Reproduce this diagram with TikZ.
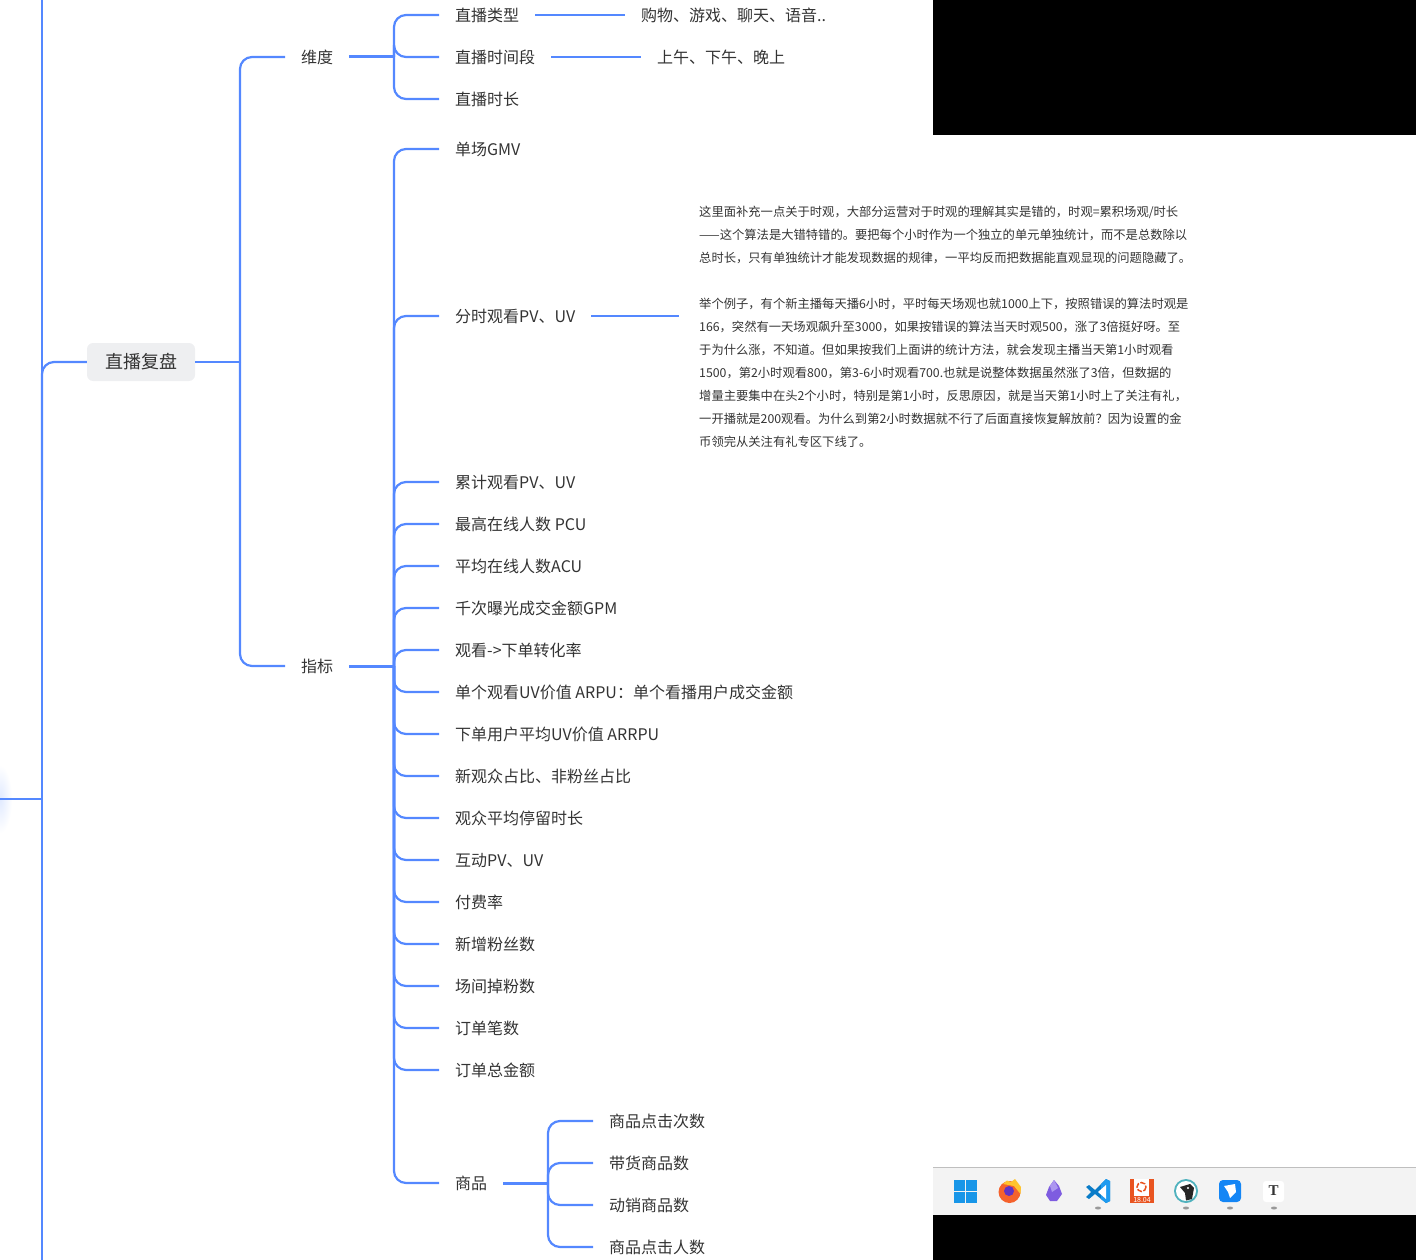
\documentclass[tikz,border=0pt]{standalone}
\usepackage{fontspec}
\setmainfont{Noto Sans CJK SC}
\newfontfamily\iconserif{Liberation Serif}
\usetikzlibrary{calc,positioning,shapes}
\definecolor{linkblue}{RGB}{84,136,255}
\definecolor{inkgray}{RGB}{51,51,51}
\definecolor{rootgray}{RGB}{238,239,241}
\definecolor{barigray}{RGB}{243,243,243}
\definecolor{winblue}{RGB}{24,150,232}
\definecolor{foxorange}{RGB}{245,98,44}
\definecolor{foxyellow}{RGB}{255,196,46}
\definecolor{foxpurple}{RGB}{96,52,196}
\definecolor{obsdark}{RGB}{126,92,224}
\definecolor{obslight}{RGB}{172,150,240}
\definecolor{codedark}{RGB}{10,124,200}
\definecolor{codelight}{RGB}{30,155,240}
\definecolor{ubuorange}{RGB}{233,84,32}
\definecolor{bearteal}{RGB}{80,178,190}
\definecolor{flyblue}{RGB}{20,134,245}
\tikzset{
  link/.style={draw=linkblue,line width=2.2pt,rounded corners=12pt},
  stemline/.style={draw=linkblue,line width=3pt},
  leaf/.style={anchor=west,inner xsep=16pt,inner ysep=0pt,text height=13pt,text depth=0pt,text=inkgray,font=\fontsize{16}{20}\selectfont},
  rootbox/.style={fill=rootgray,rounded corners=6pt,text=inkgray,minimum width=108pt,minimum height=38pt,inner sep=0pt,font=\fontsize{18}{22}\selectfont},
  notebox/.style={anchor=west,inner xsep=20pt,inner ysep=0pt,align=left,text=inkgray,font=\fontsize{12.3}{23}\selectfont},
  dotmark/.style={fill=gray!80}
}
\begin{document}
\begin{tikzpicture}[x=1pt,y=-1pt]
\useasboundingbox (0,0) rectangle (1416,1260);
\def\trunkx{42}
\def\forkx{394}
% trunk on the far left
\shade[shading=radial,inner color=linkblue!18,outer color=white] (-12,765) rectangle (12,833);
\coordinate (trunktop) at (\trunkx,0);
\coordinate (trunkend) at (\trunkx,1260);
\coordinate (trunkmid) at (\trunkx,500);
\coordinate (sideend) at (0,799);
\draw[link] (trunktop) -- (trunkend);
\draw[link] (sideend) -- (sideend -| trunktop);
\node[rootbox] (root) at (141,362) {直播复盘};
\draw[link] (trunkmid) |- (root.west);
% first level
\coordinate (rootfork) at (240,362);
\draw[link] (root.east) -- (rootfork);
\node[leaf] (wd) at (285,57) {维度};
\node[leaf] (zb) at (285,666) {指标};
\draw[link] (rootfork) |- (wd.west);
\draw[link] (rootfork) |- (zb.west);
% dimensions
\coordinate (wdfork) at (\forkx,57);
\draw[stemline] (wd.east) -- (wdfork);
\foreach \n/\y/\t in {wa/15/直播类型,wb/57/直播时间段,wc/99/直播时长}{
  \node[leaf] (\n) at (439,\y) {\t};
  \draw[link] (wdfork) |- (\n.west);
}
\node[leaf] (wax) at (625,15) {购物、游戏、聊天、语音..};
\node[leaf] (wbx) at (641,57) {上午、下午、晚上};
\draw[link] (wa.east) -- (wax.west);
\draw[link] (wb.east) -- (wbx.west);
% metrics
\coordinate (zbfork) at (\forkx,666);
\draw[stemline] (zb.east) -- (zbfork);
\foreach \n/\y/\t in {
  za/149/单场GMV,
  zb1/316/分时观看PV、UV,
  zc/482/累计观看PV、UV,
  zd/524/最高在线人数 PCU,
  ze/566/平均在线人数ACU,
  zf/608/千次曝光成交金额GPM,
  zg/650/观看->下单转化率,
  zh/692/单个观看UV价值 ARPU：单个看播用户成交金额,
  zi/734/下单用户平均UV价值 ARRPU,
  zj/776/新观众占比、非粉丝占比,
  zk/818/观众平均停留时长,
  zl/860/互动PV、UV,
  zm/902/付费率,
  zn/944/新增粉丝数,
  zo/986/场间掉粉数,
  zp/1028/订单笔数,
  zq/1070/订单总金额,
  zr/1183/商品}{
  \node[leaf] (\n) at (439,\y) {\t};
  \draw[link] (zbfork) |- (\n.west);
}
% long note
\node[notebox] (note) at (679,326.5) {这里面补充一点关于时观，大部分运营对于时观的理解其实是错的，时观=累积场观/时长\\
——这个算法是大错特错的。要把每个小时作为一个独立的单元单独统计，而不是总数除以\\
总时长，只有单独统计才能发现数据的规律，一平均反而把数据能直观显现的问题隐藏了。\\[23pt]
举个例子，有个新主播每天播6小时，平时每天场观也就1000上下，按照错误的算法时观是\\
166，突然有一天场观飙升至3000，如果按错误的算法当天时观500，涨了3倍挺好呀。至\\
于为什么涨，不知道。但如果按我们上面讲的统计方法，就会发现主播当天第1小时观看\\
1500，第2小时观看800，第3-6小时观看700.也就是说整体数据虽然涨了3倍，但数据的\\
增量主要集中在头2个小时，特别是第1小时，反思原因，就是当天第1小时上了关注有礼，\\
一开播就是200观看。为什么到第2小时数据就不行了后面直接恢复解放前？因为设置的金\\
币领完从关注有礼专区下线了。};
\draw[link] (zb1.east) -- (zb1.east -| note.west);
% goods
\coordinate (spfork) at (548,1183);
\draw[stemline] (zr.east) -- (spfork);
\foreach \n/\y/\t in {sa/1121/商品点击次数,sb/1163/带货商品数,sc/1205/动销商品数,sd/1247/商品点击人数}{
  \node[leaf] (\n) at (593,\y) {\t};
  \draw[link] (spfork) |- (\n.west);
}
% screen leftovers
\fill[black] (933,0) rectangle (1416,135);
\fill[black] (933,1215) rectangle (1416,1260);
\fill[barigray] (933,1167) rectangle (1416,1215);
\draw[gray!50,line width=1pt] (933,1167) -- (1416,1167);
% windows
\foreach \x/\y in {954/1180,966/1180,954/1192,966/1192}
  \fill[winblue] (\x,\y) rectangle ++(11,11);
% firefox
\fill[foxorange] (1009.5,1192) circle (11);
\fill[foxyellow] (1003,1184) -- (1007,1180.5) -- (1011,1182) -- (1015,1179) -- (1021,1187) -- (1020.5,1194) -- (1014,1186) -- cycle;
\fill[foxpurple] (1009,1191) circle (5);
% obsidian
\fill[obsdark] (1054,1180) -- (1059,1186) -- (1062,1194) -- (1057,1201) -- (1050,1201) -- (1046,1195) -- (1049,1187) -- cycle;
\fill[obslight] (1054,1180) -- (1058,1188) -- (1052,1192) -- (1050,1186) -- cycle;
% vscode
\fill[codedark] (1086,1187) -- (1089,1185) -- (1095,1190) -- (1106,1179) -- (1110,1181) -- (1110,1201) -- (1106,1203) -- (1095,1194) -- (1089,1199) -- (1086,1197) -- (1091,1192) -- cycle;
\fill[codelight] (1101,1184) -- (1106,1179) -- (1110,1181) -- (1110,1201) -- (1106,1203) -- (1101,1199) -- cycle;
\fill[white] (1106,1185) -- (1098,1192) -- (1106,1199) -- cycle;
% ubuntu
\fill[ubuorange] (1130,1179) rectangle (1154,1203);
\fill[white] (1134,1179) rectangle (1149,1196);
\draw[ubuorange,line width=1.5pt,dash pattern=on 5pt off 1.5pt] (1141.5,1187) circle (4.5);
\node[text=white,inner sep=0pt,font=\fontsize{7}{8}\selectfont] (ubver) at (1142,1199.5) {18.04};
% bear
\fill[bearteal] (1186,1191) circle (12);
\fill[white] (1186,1191) circle (10);
\fill[black!85] (1180,1187) -- (1190,1184) -- (1194,1188) -- (1192,1199) -- (1186,1200.5) -- (1185,1193) -- cycle;
\fill[white] (1188,1188) circle (1.2);
% feishu
\fill[flyblue,rounded corners=4pt] (1219,1180) rectangle (1241,1202);
\fill[white] (1224,1186) -- (1235,1184) -- (1236,1192) -- (1230,1198) -- (1228,1192) -- cycle;
% typora
\fill[white,rounded corners=3pt] (1263,1181) rectangle (1284,1202);
\node[text=black!80,inner sep=0pt,font=\fontsize{15}{16}\selectfont\iconserif\bfseries] (typot) at (1273.5,1190.5) {T};
\foreach \x in {1098,1186,1230,1274}
  \fill[dotmark] (\x,1208) ellipse (3 and 1.5);
\end{tikzpicture}
\end{document}
